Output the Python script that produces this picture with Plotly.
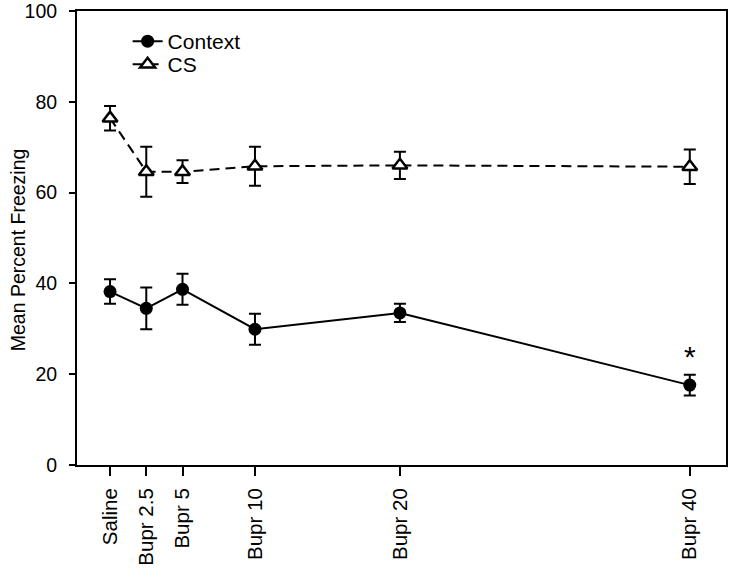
import plotly.graph_objects as go

doses = [0, 2.5, 5, 10, 20, 40]
tick_labels = ["Saline", "Bupr 2.5", "Bupr 5", "Bupr 10", "Bupr 20", "Bupr 40"]

context_mean = [38.2, 34.5, 38.7, 29.9, 33.5, 17.6]
context_err = [2.7, 4.6, 3.4, 3.4, 2.0, 2.3]

cs_mean = [76.4, 64.6, 64.6, 65.8, 66.0, 65.7]
cs_err = [2.7, 5.5, 2.5, 4.3, 3.0, 3.8]

y_title = "Mean Percent Freezing"

sig_dose = 40
sig_y = 24
sig_text = "*"

fig = go.Figure()
fig.add_trace(go.Scatter(
    x=doses, y=context_mean, name="Context", mode="lines+markers",
    line=dict(color="black", width=2),
    marker=dict(symbol="circle", size=13, color="black"),
    error_y=dict(type="data", array=context_err, color="black", thickness=2, width=6),
    legend="legend",
))
fig.add_trace(go.Scatter(
    x=doses, y=cs_mean, name="CS", mode="lines+markers",
    line=dict(color="black", width=2, dash="10px,6px"),
    marker=dict(symbol="triangle-up", size=13, color="white",
                line=dict(color="black", width=2.5)),
    error_y=dict(type="data", array=cs_err, color="black", thickness=2, width=6),
    legend="legend2",
))
fig.add_annotation(x=sig_dose, y=sig_y, text=sig_text, showarrow=False,
                   font=dict(size=30, color="black", family="Liberation Sans, Arial"))
fig.add_annotation(xref="paper", yref="paper", x=-0.091, y=0.475, text=y_title,
                   textangle=-90, showarrow=False, xanchor="center", yanchor="middle",
                   font=dict(size=19.5, color="black", family="Liberation Sans, Arial"))

leg_common = dict(xanchor="left", yanchor="top", font=dict(size=21),
                  bgcolor="rgba(0,0,0,0)", itemwidth=30)

fig.update_layout(
    width=732, height=570,
    margin=dict(l=77, r=6, t=11, b=105, autoexpand=False),
    plot_bgcolor="white", paper_bgcolor="white",
    font=dict(family="Liberation Sans, Arial", color="black"),
    showlegend=True,
    legend=dict(x=0.078, y=0.978, **leg_common),
    legend2=dict(x=0.078, y=0.927, **leg_common),
    xaxis=dict(range=[-2.28, 42.5], tickmode="array", tickvals=doses,
               ticktext=tick_labels, tickangle=-90, ticks="outside", ticklen=9,
               tickwidth=2, tickcolor="black", showline=True, linecolor="black",
               linewidth=2, mirror=True, showgrid=False, zeroline=False,
               tickfont=dict(size=20.5), ticklabelstandoff=4, automargin=False,
               ticklabeloverflow="allow"),
    yaxis=dict(range=[0, 100], tickvals=[0, 20, 40, 60, 80, 100], ticks="outside",
               ticklen=6, tickwidth=2, tickcolor="black", showline=True,
               linecolor="black", linewidth=2, mirror=True, showgrid=False,
               zeroline=False, tickfont=dict(size=19.5), ticklabelstandoff=8,
               automargin=False, ticklabeloverflow="allow"),
)

fig.write_html("out.html", config={"displayModeBar": False},
               post_script="document.body.style.margin='0';")
